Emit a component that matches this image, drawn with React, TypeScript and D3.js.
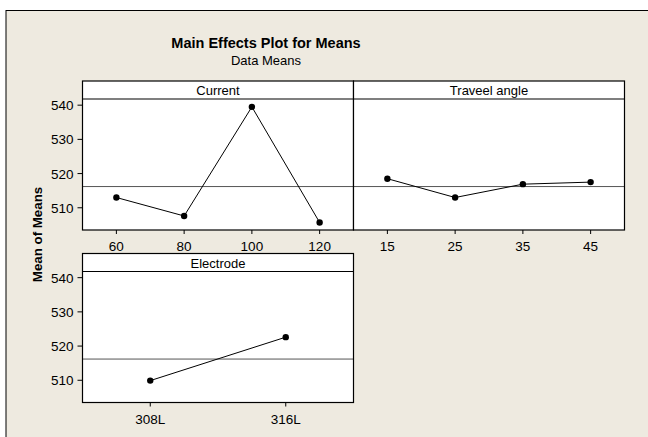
import React from "react";
import * as d3 from "d3";

const currentLevels = ["60", "80", "100", "120"];
const currentMeans = [513.0, 507.6, 539.5, 505.7];
const angleLevels = ["15", "25", "35", "45"];
const angleMeans = [518.5, 513.0, 516.9, 517.5];
const electrodeLevels = ["308L", "316L"];
const electrodeMeans = [509.9, 522.6];
const grandMean = 516.2;
const yTicks = [510, 520, 530, 540];

const FONT = "'Liberation Sans', Arial, sans-serif";

type PanelProps = {
  title: string;
  levels: string[];
  means: number[];
  x0: number;
  x1: number;
  top: number;
  bottom: number;
  showY: boolean;
};

function Panel({ title, levels, means, x0, x1, top, bottom, showY }: PanelProps) {
  const headerH = 18;
  const plotTop = top + headerH;
  const y = d3.scaleLinear().domain([503.5, 541.8]).range([bottom, plotTop]);
  const x = d3.scalePoint<string>().domain(levels).range([x0, x1]).padding(0.5);
  const line = d3
    .line<number>()
    .x((_, i) => x(levels[i]) as number)
    .y((d) => y(d));
  return (
    <g>
      <rect x={x0} y={top} width={x1 - x0} height={bottom - top} fill="#fff" />
      <line x1={x0} x2={x1} y1={y(grandMean)} y2={y(grandMean)} stroke="#555" strokeWidth={1} />
      <path d={line(means) || ""} fill="none" stroke="#000" strokeWidth={1} />
      {means.map((m, i) => (
        <circle key={i} cx={x(levels[i])} cy={y(m)} r={3.2} fill="#000" />
      ))}
      <rect x={x0} y={top} width={x1 - x0} height={bottom - top} fill="none" stroke="#000" strokeWidth={1.2} />
      <line x1={x0} x2={x1} y1={plotTop} y2={plotTop} stroke="#000" strokeWidth={1.2} />
      <text x={(x0 + x1) / 2} y={top + 14} textAnchor="middle" fontSize={13} fontFamily={FONT}>
        {title}
      </text>
      {levels.map((l) => (
        <g key={l}>
          <line x1={x(l)} x2={x(l)} y1={bottom} y2={bottom + 4} stroke="#000" />
          <text x={x(l)} y={bottom + 21} textAnchor="middle" fontSize={13.5} fontFamily={FONT}>
            {l}
          </text>
        </g>
      ))}
      {showY &&
        yTicks.map((t) => (
          <g key={t}>
            <line x1={x0 - 5} x2={x0} y1={y(t)} y2={y(t)} stroke="#000" />
            <text x={x0 - 9} y={y(t) + 5} textAnchor="end" fontSize={13.5} fontFamily={FONT}>
              {t}
            </text>
          </g>
        ))}
    </g>
  );
}

export default function App() {
  return (
    <svg
      width={648}
      height={437}
      style={{ position: "absolute", left: 0, top: 0, display: "block" }}
    >
      <rect x={0} y={0} width={648} height={437} fill="#fff" />
      <rect x={6} y={10.5} width={660} height={440} fill="#EEEAE0" stroke="#000" strokeWidth={1} />
      <text x={266} y={48} textAnchor="middle" fontSize={14.5} fontWeight="bold" fontFamily={FONT}>
        Main Effects Plot for Means
      </text>
      <text x={266} y={65} textAnchor="middle" fontSize={13} fontFamily={FONT}>
        Data Means
      </text>
      <text
        transform="translate(42,234.5) rotate(-90)"
        textAnchor="middle"
        fontSize={13.3}
        fontWeight="bold"
        fontFamily={FONT}
      >
        Mean of Means
      </text>
      <Panel title="Current" levels={currentLevels} means={currentMeans} x0={82.5} x1={353.5} top={81} bottom={230} showY={true} />
      <Panel title="Traveel angle" levels={angleLevels} means={angleMeans} x0={353.5} x1={624.5} top={81} bottom={230} showY={false} />
      <Panel title="Electrode" levels={electrodeLevels} means={electrodeMeans} x0={82.5} x1={353.5} top={253.5} bottom={402.5} showY={true} />
    </svg>
  );
}
